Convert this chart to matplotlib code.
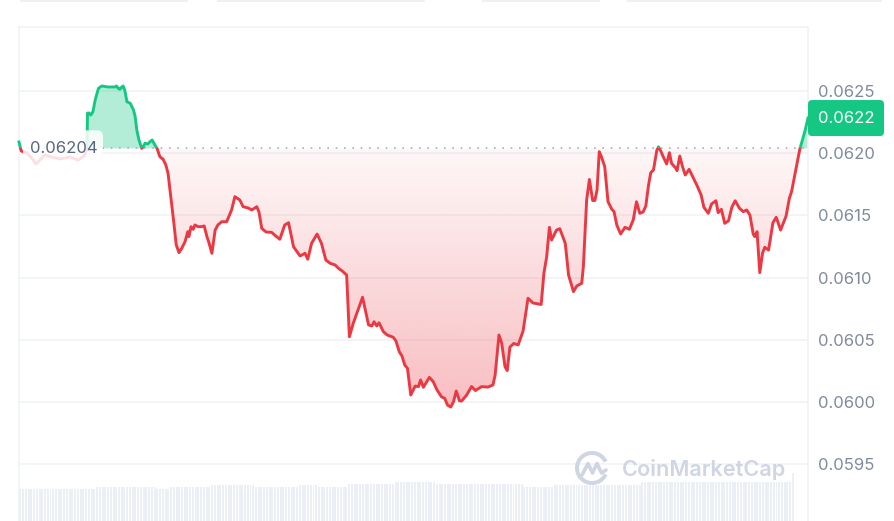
import math
import numpy as np
import matplotlib
matplotlib.use("Agg")
import matplotlib.pyplot as plt
from matplotlib.path import Path
from matplotlib.patches import FancyBboxPatch, Rectangle, Arc
from matplotlib.lines import Line2D
from matplotlib.transforms import IdentityTransform
from matplotlib.colors import to_rgb

# ---- data: 24h price (minutes from start) ----
minutes = [
    0, 4, 15, 26, 31, 38, 47, 60, 75, 93,
    108, 119, 124, 125, 128, 131, 135, 139, 145, 151,
    162, 175, 178, 181, 184, 187, 190, 193, 197, 203,
    209, 212, 215, 219, 224, 227, 230, 235, 239, 243,
    248, 252, 257, 263, 268, 272, 277, 282, 287, 292,
    297, 303, 308, 310, 314, 318, 321, 327, 333, 338,
    343, 347, 352, 358, 363, 370, 379, 388, 394, 403,
    409, 418, 425, 434, 438, 443, 451, 461, 470, 476,
    485, 492, 501, 513, 522, 527, 534, 544, 552, 560,
    568, 577, 583, 590, 598, 603, 610, 627, 638, 644,
    648, 653, 657, 665, 672, 683, 688, 694, 699, 704,
    709, 715, 723, 729, 733, 738, 749, 756, 763, 771,
    777, 782, 788, 793, 798, 804, 808, 817, 826, 833,
    844, 856, 865, 869, 876, 881, 887, 891, 896, 903,
    911, 920, 929, 938, 953, 958, 963, 968, 972, 981,
    987, 997, 1003, 1012, 1018, 1027, 1030, 1036, 1041, 1047,
    1051, 1055, 1059, 1063, 1069, 1075, 1082, 1086, 1091, 1098,
    1106, 1114, 1121, 1127, 1133, 1139, 1144, 1149, 1153, 1158,
    1164, 1167, 1171, 1177, 1182, 1187, 1191, 1199, 1201, 1206,
    1211, 1216, 1223, 1231, 1237, 1245, 1250, 1258, 1264, 1272,
    1276, 1282, 1288, 1295, 1301, 1307, 1315, 1322, 1328, 1334,
    1340, 1343, 1347, 1352, 1357, 1361, 1368, 1371, 1376, 1382,
    1390, 1400, 1406, 1410, 1425, 1435, 1440,
]
prices = [
    0.062091, 0.062019, 0.062002, 0.061946, 0.061914, 0.061946, 0.061986, 0.061970, 0.061954, 0.061970,
    0.061946, 0.061978, 0.062043, 0.062324, 0.062324, 0.062308, 0.062335, 0.062429, 0.062523, 0.062542,
    0.062534, 0.062534, 0.062542, 0.062523, 0.062515, 0.062531, 0.062542, 0.062510, 0.062415, 0.062403,
    0.062349, 0.062295, 0.062188, 0.062107, 0.062040, 0.062053, 0.062081, 0.062075, 0.062093, 0.062107,
    0.062067, 0.062040, 0.061973, 0.061952, 0.061906, 0.061839, 0.061651, 0.061463, 0.061262, 0.061200,
    0.061235, 0.061288, 0.061369, 0.061329, 0.061409, 0.061388, 0.061423, 0.061409, 0.061409, 0.061415,
    0.061329, 0.061275, 0.061195, 0.061382, 0.061423, 0.061449, 0.061449, 0.061544, 0.061651, 0.061624,
    0.061570, 0.061560, 0.061544, 0.061570, 0.061527, 0.061396, 0.061366, 0.061364, 0.061329, 0.061308,
    0.061423, 0.061441, 0.061248, 0.061173, 0.061195, 0.061147, 0.061275, 0.061350, 0.061275, 0.061141,
    0.061114, 0.061101, 0.061074, 0.061052, 0.061020, 0.060523, 0.060631, 0.060841, 0.060618, 0.060610,
    0.060644, 0.060610, 0.060636, 0.060564, 0.060537, 0.060519, 0.060489, 0.060403, 0.060368, 0.060296,
    0.060269, 0.060054, 0.060126, 0.060121, 0.060175, 0.060116, 0.060196, 0.060161, 0.060094, 0.060040,
    0.060027, 0.059973, 0.059957, 0.060000, 0.060086, 0.060006, 0.060006, 0.060054, 0.060122, 0.060090,
    0.060121, 0.060118, 0.060135, 0.060215, 0.060537, 0.060470, 0.060282, 0.060251, 0.060440, 0.060469,
    0.060457, 0.060569, 0.060833, 0.060795, 0.060783, 0.061034, 0.061165, 0.061404, 0.061302, 0.061382,
    0.061393, 0.061275, 0.061020, 0.060886, 0.060932, 0.060953, 0.061087, 0.061624, 0.061789, 0.061620,
    0.061620, 0.061705, 0.062013, 0.061973, 0.061892, 0.061610, 0.061549, 0.061530, 0.061423, 0.061350,
    0.061404, 0.061388, 0.061463, 0.061610, 0.061517, 0.061527, 0.061576, 0.061745, 0.061844, 0.061866,
    0.062021, 0.062053, 0.062021, 0.061960, 0.061914, 0.062005, 0.061919, 0.061879, 0.061860, 0.061978,
    0.061892, 0.061825, 0.061871, 0.061799, 0.061745, 0.061664, 0.061565, 0.061517, 0.061592, 0.061618,
    0.061522, 0.061549, 0.061436, 0.061457, 0.061565, 0.061618, 0.061557, 0.061530, 0.061544, 0.061503,
    0.061350, 0.061329, 0.061369, 0.061039, 0.061195, 0.061243, 0.061221, 0.061302, 0.061441, 0.061485,
    0.061382, 0.061495, 0.061638, 0.061691, 0.062032, 0.062188, 0.062284,
]
open_price = 0.06204
y_ticks = [0.0595, 0.0600, 0.0605, 0.0610, 0.0615, 0.0620, 0.0625]

# 5-minute volume bars, read as flat stretches (level, number of bars)
vol_levels = [3.2, 3.4, 3.2, 3.4, 3.6, 3.4, 3.57, 3.4, 3.73, 3.87, 3.75, 3.43, 3.6, 3.93, 4.8]
vol_counts = [28, 22, 5, 15, 16, 16, 7, 11, 17, 15, 32, 11, 32, 55, 1]

GREEN = "#16c784"
RED = "#ea3943"
W, H = 895, 521

t = np.array(minutes, dtype=float)
p = np.array(prices)
assert len(t) == len(p)
volume = np.repeat(vol_levels, vol_counts)
vol_t = np.arange(len(volume)) * 5 + 2.5

fig = plt.figure(figsize=(W / 100, H / 100), dpi=100)
rect = [19 / W, 0, 789 / W, 494 / H]

# volume underneath
vax = fig.add_axes(rect, zorder=0)
vax.bar(vol_t, volume, width=3.6, color="#e6e9f5", alpha=0.7, linewidth=0)
vax.set_xlim(0, 1440)
vax.set_ylim(0, 49.4)
vax.axis("off")

ax = fig.add_axes(rect, zorder=1)
ax.patch.set_alpha(0)
y_lo, y_hi = 0.0590395, 0.0630169

# green area above open, red gradient below
ax.fill_between(t, p, open_price, where=p >= open_price, interpolate=True,
                color=GREEN, alpha=0.32, linewidth=0, zorder=2)
red_area = ax.fill_between(t, p, open_price, where=p <= open_price, interpolate=True,
                           facecolor="none", edgecolor="none")
clip = Path.make_compound_path(*red_area.get_paths())
grad = np.zeros((256, 1, 4))
grad[..., :3] = to_rgb(RED)
grad[:, 0, 3] = np.linspace(0.33, 0.04, 256)
im = ax.imshow(grad, extent=[0, 1440, p.min(), open_price], origin="lower",
               aspect="auto", interpolation="bilinear", zorder=2)
im.set_clip_path(clip, ax.transData)

for yt in y_ticks:
    ax.axhline(yt, color="#eff2f5", lw=1.1, zorder=1)
ax.axhline(open_price, color="#a6b0c3", lw=1.2, ls=(0, (1, 4)), zorder=3)

# price line, green above the open, red below
up = ax.plot(t, p, color=GREEN, lw=2.1, zorder=4, solid_joinstyle="round")[0]
dn = ax.plot(t, p, color=RED, lw=2.1, zorder=4, solid_joinstyle="round")[0]
up_clip = Rectangle((-100, open_price), 1700, 1, transform=ax.transData)
dn_clip = Rectangle((-100, open_price - 1), 1700, 1, transform=ax.transData)
up.set_clip_path(up_clip)
dn.set_clip_path(dn_clip)

ax.set_xlim(0, 1440)
ax.set_ylim(y_lo, y_hi)
ax.set_xticks([])
ax.yaxis.tick_right()
ax.set_yticks(y_ticks)
ax.set_yticklabels([f"{v:.4f}" for v in y_ticks], family="Inter", fontsize=12, color="#808a9d")
ax.tick_params(axis="y", length=0, pad=7.2)
for side in ["left", "top", "right"]:
    ax.spines[side].set_color("#eff2f5")
    ax.spines[side].set_linewidth(1.1)
ax.spines["bottom"].set_visible(False)

# open price label on the left
fig.canvas.draw()
ident = IdentityTransform()
_, oy = ax.transData.transform((0, open_price))
fig.add_artist(FancyBboxPatch((23 + 4, oy - 18 + 4), 80 - 8, 36 - 8,
                              boxstyle="round,pad=4,rounding_size=6",
                              fc="white", ec="none", alpha=0.85, transform=ident, zorder=5))
fig.text(30 / W, oy / H, f"{open_price:.5f}", family="Inter", fontsize=12,
         color="#58667e", va="center", ha="left", zorder=6)

# latest price tag on the right
_, ly = ax.transData.transform((1440, p[-1]))
fig.add_artist(FancyBboxPatch((808 + 4, ly - 18 + 4), 76 - 8, 36 - 8,
                              boxstyle="round,pad=4,rounding_size=4",
                              fc=GREEN, ec="none", transform=ident, zorder=5))
fig.text(818 / W, ly / H, f"{math.floor(p[-1] * 1e4) / 1e4:.4f}", family="Inter",
         fontsize=12, color="white", va="center", ha="left", zorder=6)

# watermark
wm = "#cfd5e2"
cx, cy = 592, H - 468
fig.add_artist(Arc((cx, cy), 30, 30, theta1=25, theta2=335, lw=2.9, color=wm,
                   transform=ident, zorder=6))
mx = [582, 588, 592.5, 597, 601.5, 606]
my = [475, 463.5, 473, 463.5, 473, 470]
fig.add_artist(Line2D(mx, [H - v for v in my], lw=2.6, color=wm, transform=ident,
                      solid_capstyle="round", solid_joinstyle="round", zorder=6))
fig.text(622 / W, 1 - 476 / H, "CoinMarketCap", family="Inter", fontsize=15.6,
         weight="semibold", color=wm, va="baseline", ha="left", zorder=6)

# page tabs peeking at the top edge
for x0, x1 in [(20, 188), (217, 425), (482, 600), (627, 882)]:
    fig.add_artist(Rectangle((x0, H - 2), x1 - x0, 2, color="#eef0f4", lw=0, transform=ident))

fig.savefig("out.png", dpi=100)
